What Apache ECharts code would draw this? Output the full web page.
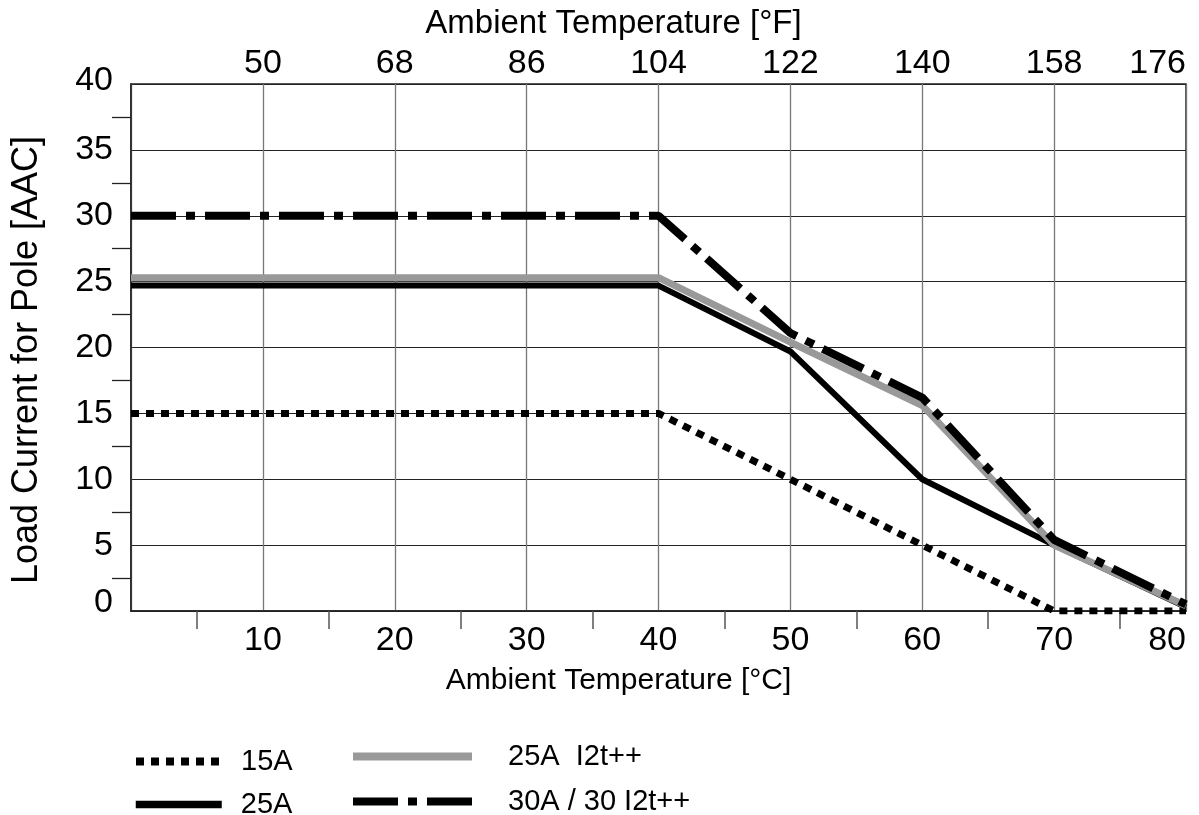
<!DOCTYPE html>
<html>
<head>
<meta charset="utf-8">
<script src="https://cdn.jsdelivr.net/npm/echarts@6/dist/echarts.min.js"></script>
<style>html,body{margin:0;padding:0;background:#fff;}#c{width:1199px;height:815px;}</style>
</head>
<body>
<div id="c"></div>
<script>
// Data
const tempC = [0, 40, 50, 60, 70, 80];
const s15A = [15, 15, 10, 5, 0, 0];
const s25A = [24.7, 24.7, 19.7, 10, 5, 0.3];
const s25AI2t = [25.3, 25.3, 20.4, 15.6, 5, 0.4];
const s30A = [30, 30, 21.1, 16.2, 5.4, 0.5];
const seriesNames = ['15A', '25A', '25A  I2t++', '30A / 30 I2t++'];

const pairs = (ys) => tempC.map((x, i) => [x, ys[i]]);
const FONT = 'Liberation Sans, Arial, sans-serif';

function legendItem(name, left, centerY, itemWidth, lineWidth, textPad) {
  return {
    data: [name], left: left, top: centerY - 12, orient: 'horizontal',
    itemWidth: itemWidth, itemHeight: 24, padding: 0,
    selectedMode: false,
    itemStyle: { opacity: 0 },
    lineStyle: { width: lineWidth, cap: 'butt' },
    textStyle: { fontSize: 29, fontFamily: FONT, color: '#000', padding: [0, 0, 0, textPad] }
  };
}

const chart = echarts.init(document.getElementById('c'));
chart.setOption({
  animation: false,
  backgroundColor: '#fff',
  textStyle: { fontFamily: FONT, color: '#000' },
  grid: { left: 131, right: 13, top: 84, bottom: 204, containLabel: false, outerBoundsMode: 'none',
          show: true, borderColor: '#222', borderWidth: 1.5 },
  legend: [
    legendItem(seriesNames[0], 132, 759, 86, 8, 14),
    legendItem(seriesNames[1], 132, 802, 86, 7.5, 14),
    legendItem(seriesNames[2], 349, 754, 119, 8, 31),
    legendItem(seriesNames[3], 349, 799, 119, 8, 31)
  ],
  xAxis: [
    {
      type: 'value', min: 0, max: 80, interval: 10, position: 'bottom',
      name: 'Ambient Temperature [°C]', nameLocation: 'middle', nameGap: 55,
      nameTextStyle: { fontSize: 30, fontFamily: FONT, color: '#000', padding: [0, 80, 0, 0] },
      axisLine: { show: true, lineStyle: { color: '#222', width: 1.5 } },
      axisTick: { show: false },
      minorTick: { show: true, splitNumber: 2, length: 18, lineStyle: { color: '#555', width: 1.5 } },
      axisLabel: { showMinLabel: false, alignMaxLabel: 'right', fontSize: 34, color: '#000', margin: 13, fontFamily: FONT },
      splitLine: { show: true, lineStyle: { color: '#777', width: 1.3 } }
    },
    {
      type: 'value', min: 0, max: 80, interval: 10, position: 'top',
      name: 'Ambient Temperature [°F]', nameLocation: 'middle', nameGap: 44,
      nameTextStyle: { fontSize: 33, fontFamily: FONT, color: '#000', padding: [0, 90, 0, 0] },
      axisLine: { show: false }, axisTick: { show: false },
      axisLabel: {
        showMinLabel: false, alignMaxLabel: 'right', fontSize: 34, color: '#000', margin: 3, fontFamily: FONT,
        formatter: (v) => String(Math.round(v * 1.8 + 32))
      },
      splitLine: { show: false }
    }
  ],
  yAxis: {
    type: 'value', min: 0, max: 40, interval: 5,
    name: 'Load Current for Pole [AAC]', nameLocation: 'middle', nameGap: 86, nameRotate: 90,
    nameTextStyle: { fontSize: 36, fontFamily: FONT, color: '#000', padding: [0, 25, 0, 0] },
    axisLine: { show: true, lineStyle: { color: '#222', width: 1.5 } },
    axisTick: { show: false },
    minorTick: { show: true, splitNumber: 2, length: 19, lineStyle: { color: '#222', width: 1.3 } },
    axisLabel: {
      fontSize: 34, color: '#000', margin: 18, fontFamily: FONT,
      formatter: (v) => v === 0 ? '{z|0}' : (v === 40 ? '{t|40}' : String(v)),
      rich: {
        z: { fontSize: 34, fontFamily: FONT, color: '#000', padding: [0, 0, 16, 0] },
        t: { fontSize: 34, fontFamily: FONT, color: '#000', padding: [0, 0, 6, 0] }
      }
    },
    splitLine: { show: true, lineStyle: { color: '#222', width: 1.2 } }
  },
  series: [
    { name: seriesNames[0], type: 'line', data: pairs(s15A), symbol: 'none', z: 3,
      lineStyle: { color: '#000', width: 7, type: [8, 7], cap: 'butt' }, itemStyle: { color: '#000' } },
    { name: seriesNames[1], type: 'line', data: pairs(s25A), symbol: 'none', z: 4,
      lineStyle: { color: '#000', width: 6, type: 'solid' }, itemStyle: { color: '#000' } },
    { name: seriesNames[2], type: 'line', data: pairs(s25AI2t), symbol: 'none', z: 5,
      lineStyle: { color: '#999', width: 7, type: 'solid' }, itemStyle: { color: '#999' } },
    { name: seriesNames[3], type: 'line', data: pairs(s30A), symbol: 'none', z: 6,
      lineStyle: { color: '#000', width: 8, type: [45, 10, 9, 10], cap: 'butt' }, itemStyle: { color: '#000' } }
  ]
});
</script>
</body>
</html>
